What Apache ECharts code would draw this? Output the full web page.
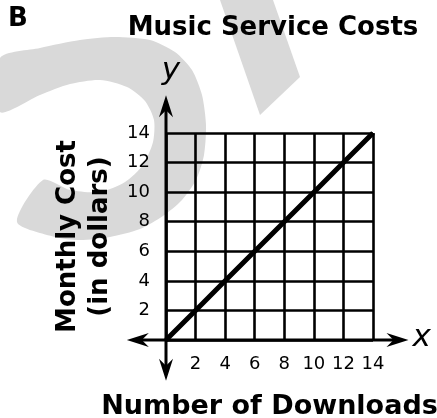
<!DOCTYPE html>
<html>
<head>
<meta charset="utf-8">
<script src="https://cdn.jsdelivr.net/npm/echarts@6/dist/echarts.min.js"></script>
<style>html,body{margin:0;padding:0;background:#fff;}#c{width:437px;height:418px;}</style>
</head>
<body>
<div id="c"></div>
<script>
// ---- data ----
const downloads = [0, 2, 4, 6, 8, 10, 12, 14];
const cost = [0, 2, 4, 6, 8, 10, 12, 14];
const xTickLabels = ['2', '4', '6', '8', '10', '12', '14'];
const yTickLabels = ['2', '4', '6', '8', '10', '12', '14'];
const axisMin = 0, axisMax = 14, axisStep = 2;
const xAxisEnds = [-2.65, 16.4];   // arrowed axis extent (data units)
const yAxisEnds = [-2.75, 16.55];

const FONT = 'DejaVu Sans';
const chart = echarts.init(document.getElementById('c'), null, {renderer: 'canvas'});

// background watermark (decoration only), traced outline
const wmOutline = [
  [0, 58], [40, 48], [80, 40], [115, 37], [150, 40], [175, 52], [192, 70], [202, 95], [206, 125],
  [204, 155], [196, 180], [182, 200], [163, 216], [140, 229], [110, 237], [80, 240], [55, 237], [17, 222],
  [43, 180], [70, 190], [100, 192], [125, 182], [143, 165], [153, 142], [154, 120], [145, 101],
  [127, 87], [100, 80], [70, 84], [40, 95], [0, 112]
];
const wmStroke2 = [[220, 0], [273, 0], [300, 77], [260, 115]];

const option = {
  animation: false,
  backgroundColor: '#fff',
  title: {
    text: 'Music Service Costs',
    left: 268, top: 10, textAlign: 'center',
    textStyle: {fontFamily: FONT, fontWeight: 'bold', fontSize: 26, color: '#000'}
  },
  grid: {left: 166, right: 64, top: 133, bottom: 78, containLabel: false, outerBoundsMode: 'none'},
  xAxis: {
    type: 'value', min: axisMin, max: axisMax, interval: axisStep,
    name: 'Number of Downloads', nameLocation: 'middle', nameGap: 53,
    nameTextStyle: {fontFamily: FONT, fontWeight: 'bold', fontSize: 27, color: '#000'},
    axisLine: {show: false}, axisTick: {show: false},
    axisLabel: {
      margin: 15, fontFamily: FONT, fontSize: 18, color: '#000',
      formatter: v => xTickLabels.includes(String(v)) ? String(v) : ''
    },
    splitLine: {show: true, lineStyle: {color: '#000', width: 2.6}}
  },
  yAxis: {
    type: 'value', min: axisMin, max: axisMax, interval: axisStep,
    name: 'Monthly Cost\n(in dollars)', nameLocation: 'middle', nameGap: 50,
    nameTextStyle: {fontFamily: FONT, fontWeight: 'bold', fontSize: 26, color: '#000', lineHeight: 32},
    axisLine: {show: false}, axisTick: {show: false},
    axisLabel: {
      margin: 16, fontFamily: FONT, fontSize: 18, color: '#000',
      formatter: v => yTickLabels.includes(String(v)) ? String(v) : ''
    },
    splitLine: {show: true, lineStyle: {color: '#000', width: 2.6}}
  },
  series: [{
    type: 'line',
    data: downloads.map((d, i) => [d, cost[i]]),
    showSymbol: false, symbol: 'none',
    lineStyle: {color: '#000', width: 5},
    z: 5
  }],
  graphic: [
    {id: 'wm1', type: 'polygon', z: -100, silent: true,
     shape: {points: wmOutline, smooth: 0.25}, style: {fill: '#d9d9d9'}},
    {id: 'wm2', type: 'polygon', z: -100, silent: true,
     shape: {points: wmStroke2}, style: {fill: '#d9d9d9'}},
    {id: 'B', type: 'text', left: 8, top: 6, z: 10,
     style: {text: 'B', fontFamily: FONT, fontWeight: 'bold', fontSize: 26, fill: '#000'}}
  ]
};
chart.setOption(option);

// arrowed axes through the library's coordinate conversion
const P = (x, y) => chart.convertToPixel({gridIndex: 0}, [x, y]);
const o = P(0, 0);
const xl = P(xAxisEnds[0], 0), xr = P(xAxisEnds[1], 0);
const yb = P(0, yAxisEnds[0]), yt = P(0, yAxisEnds[1]);

function arrow(id, tip, dir) { // dir: unit vector pointing toward tip
  const L = 22, W = 7, N = 15;
  const px = -dir[1], py = dir[0];
  const bx = tip[0] - dir[0] * L, by = tip[1] - dir[1] * L;
  const nx = tip[0] - dir[0] * N, ny = tip[1] - dir[1] * N;
  return {
    id, type: 'polygon', z: 20, silent: true,
    shape: {points: [tip, [bx + px * W, by + py * W], [nx, ny], [bx - px * W, by - py * W]]},
    style: {fill: '#000'}
  };
}

chart.setOption({
  graphic: [
    {id: 'xaxis', type: 'line', z: 19, silent: true,
     shape: {x1: xl[0] + 10, y1: o[1], x2: xr[0] - 10, y2: o[1]}, style: {stroke: '#000', lineWidth: 3}},
    {id: 'yaxis', type: 'line', z: 19, silent: true,
     shape: {x1: o[0], y1: yb[1] - 10, x2: o[0], y2: yt[1] + 10}, style: {stroke: '#000', lineWidth: 3}},
    arrow('al', xl, [-1, 0]),
    arrow('ar', xr, [1, 0]),
    arrow('ab', yb, [0, 1]),
    arrow('at', yt, [0, -1]),
    {id: 'xl', type: 'text', z: 20, silent: true, x: xr[0] + 4, y: o[1] - 2,
     style: {text: 'x', fontFamily: FONT, fontStyle: 'italic', fontSize: 31, fill: '#000', textAlign: 'left', textVerticalAlign: 'middle'}},
    {id: 'yl', type: 'text', z: 20, silent: true, x: o[0] + 5, y: yt[1] - 24,
     style: {text: 'y', fontFamily: FONT, fontStyle: 'italic', fontSize: 31, fill: '#000', textAlign: 'center', textVerticalAlign: 'middle'}}
  ]
});
</script>
</body>
</html>
